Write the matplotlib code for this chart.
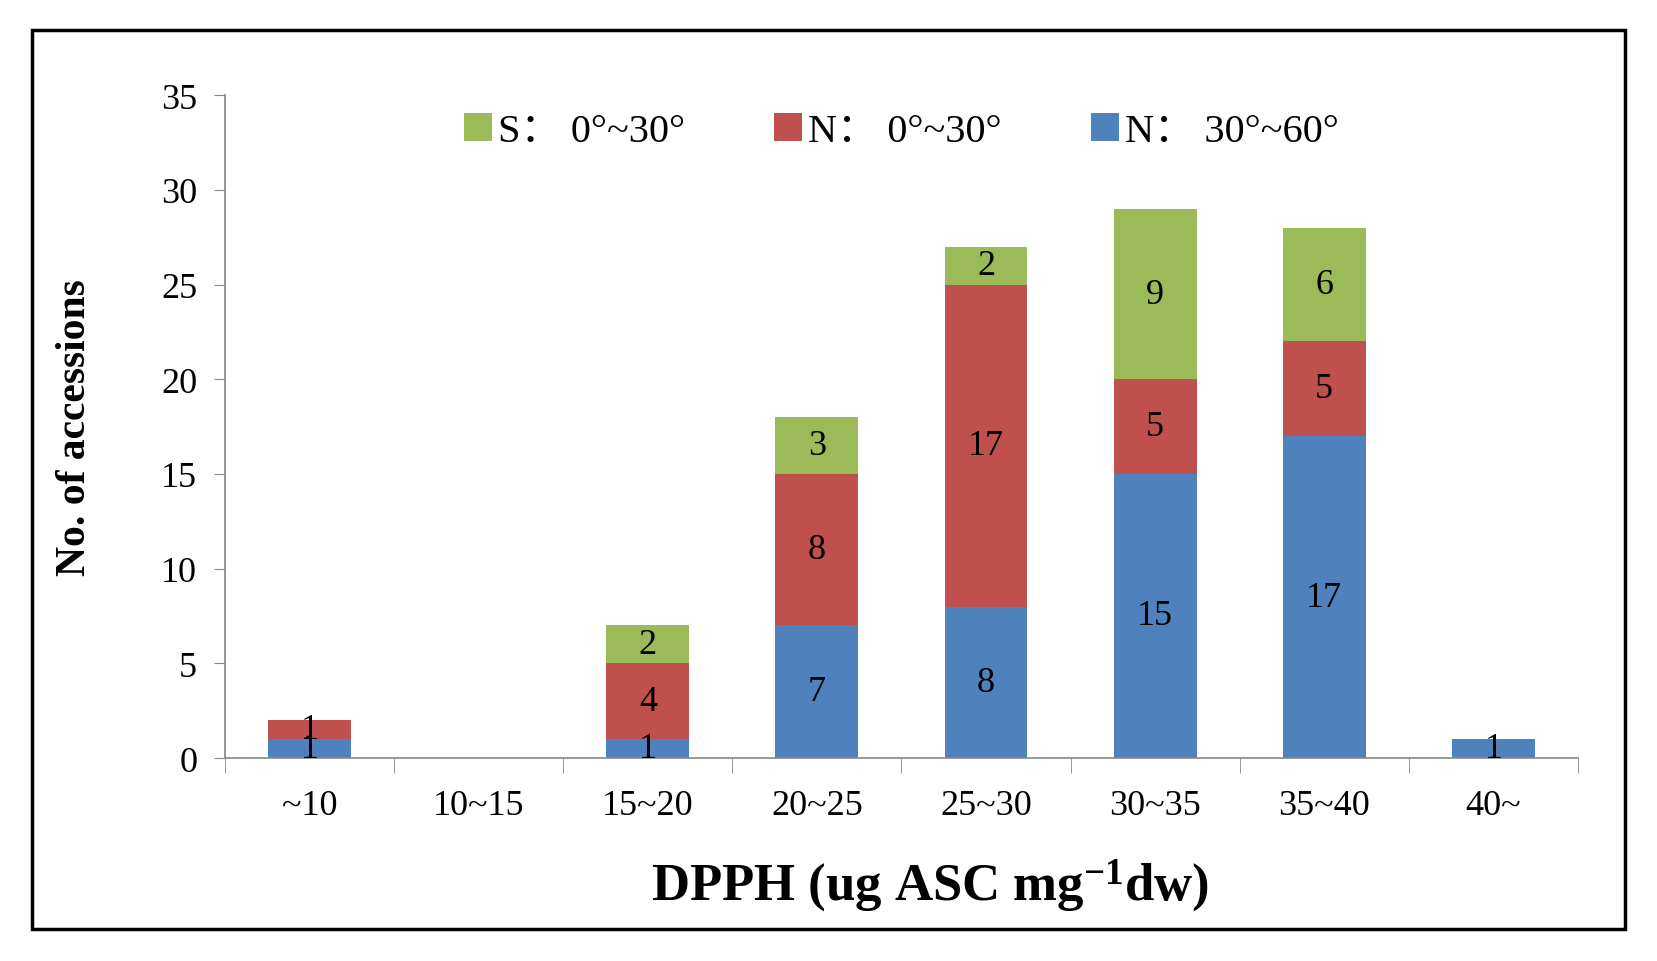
import matplotlib
matplotlib.use('Agg')
import matplotlib.pyplot as plt
from matplotlib.patches import Rectangle
import numpy as np

plt.rcParams['font.family'] = ['Liberation Serif', 'Noto Sans CJK SC', 'DejaVu Serif']
plt.rcParams['mathtext.default'] = 'regular'

categories = ['~10', '10~15', '15~20', '20~25', '25~30', '30~35', '35~40', '40~']
n_30_60 = [1, 0, 1, 7, 8, 15, 17, 1]
n_0_30 = [1, 0, 4, 8, 17, 5, 5, 0]
s_0_30 = [0, 0, 2, 3, 2, 9, 6, 0]

series = [
    ('N\uff1a 30°~60°', n_30_60, '#4F81BD'),
    ('N\uff1a 0°~30°', n_0_30, '#C0504D'),
    ('S\uff1a 0°~30°', s_0_30, '#9BBB59'),
]

fig = plt.figure(figsize=(16.57, 9.62), dpi=100)
ax = fig.add_axes([0.1358, 0.211, 0.8165, 0.689])

x = np.arange(len(categories))
bottom = np.zeros(len(categories))
handles = {}
for name, vals, color in series:
    vals = np.array(vals, dtype=float)
    bars = ax.bar(x, vals, 0.49, bottom=bottom, color=color, label=name)
    handles[name] = bars
    for xi, b, v in zip(x, bottom, vals):
        if v > 0:
            ax.text(xi, b + v / 2, str(int(v)), ha='center', va='center',
                    fontsize=26, color='black')
    bottom += vals

ax.set_xlim(-0.5, len(categories) - 0.5)
ax.set_ylim(0, 35)
ax.set_yticks(range(0, 36, 5))
ax.set_xticks(x)
ax.set_xticklabels(categories)
ax.set_xticks(np.arange(-0.5, len(categories)), minor=True)
ax.tick_params(axis='x', which='major', length=0, pad=22, labelsize=26)
ax.tick_params(axis='x', which='minor', length=11, color='#888888', direction='out')
ax.tick_params(axis='y', length=8, color='#888888', labelsize=26, pad=12)

for s in ['top', 'right']:
    ax.spines[s].set_visible(False)
for s in ['left', 'bottom']:
    ax.spines[s].set_color('#888888')
    ax.spines[s].set_linewidth(1.2)

ax.set_ylabel('No. of accessions', fontsize=30, fontweight='bold', labelpad=48)
fig.text(0.561, 0.079, 'DPPH (ug ASC mg$^{-1}$dw)', ha='center', va='center',
         fontsize=38, fontweight='bold')

order = ['S\uff1a 0°~30°', 'N\uff1a 0°~30°', 'N\uff1a 30°~60°']
ax.legend([handles[k] for k in order], order, loc='upper center',
          bbox_to_anchor=(0.5, 1.028), ncol=3, frameon=False, fontsize=29,
          handlelength=0.7, handleheight=0.7, handletextpad=0.15,
          columnspacing=2.2)

fig.add_artist(Rectangle((0.0193, 0.0333), 0.9614, 0.9345, transform=fig.transFigure,
                         fill=False, edgecolor='black', linewidth=2.5))

fig.savefig('out.png', dpi=100)
